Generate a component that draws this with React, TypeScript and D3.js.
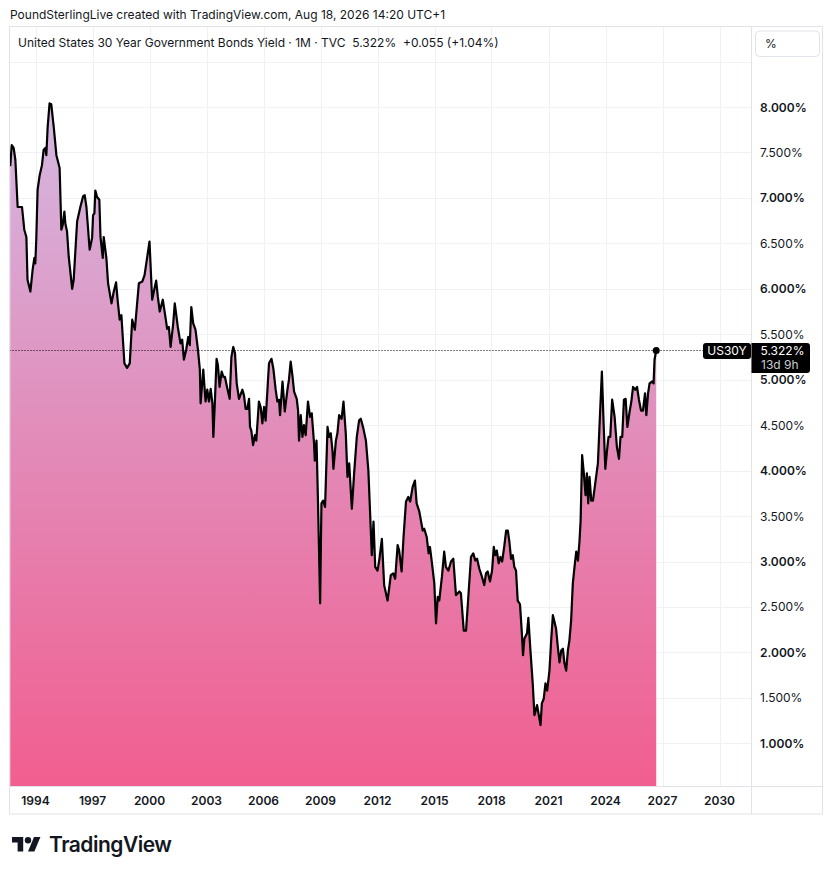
import { useEffect } from "react";
import * as d3 from "d3";

// monthly-ish readings of the US 30Y yield, decimal year -> percent
const dates = [
  1992.67, 1992.75, 1992.85, 1992.94, 1993.06, 1993.29, 1993.41, 1993.52, 1993.58, 1993.73,
  1993.85, 1993.94, 1993.99, 1994.04, 1994.11, 1994.22, 1994.34, 1994.43, 1994.52, 1994.57,
  1994.64, 1994.74, 1994.83, 1994.96, 1995.1, 1995.27, 1995.36, 1995.43, 1995.52, 1995.57,
  1995.66, 1995.75, 1995.93, 1996.01, 1996.19, 1996.36, 1996.51, 1996.59, 1996.68, 1996.85,
  1996.98, 1997.03, 1997.1, 1997.15, 1997.24, 1997.36, 1997.42, 1997.54, 1997.59, 1997.73,
  1997.82, 1998.0, 1998.12, 1998.24, 1998.33, 1998.43, 1998.52, 1998.68, 1998.82, 1998.96,
  1999.09, 1999.23, 1999.44, 1999.62, 1999.74, 2000.0, 2000.14, 2000.35, 2000.44, 2000.54,
  2000.7, 2000.81, 2000.93, 2001.02, 2001.11, 2001.25, 2001.33, 2001.49, 2001.63, 2001.72,
  2001.81, 2001.93, 2002.04, 2002.12, 2002.2, 2002.3, 2002.42, 2002.55, 2002.65, 2002.69,
  2002.83, 2002.95, 2003.04, 2003.13, 2003.22, 2003.31, 2003.36, 2003.43, 2003.53, 2003.6,
  2003.69, 2003.8, 2003.89, 2003.97, 2004.1, 2004.22, 2004.31, 2004.41, 2004.5, 2004.59,
  2004.71, 2004.89, 2004.97, 2005.06, 2005.15, 2005.24, 2005.29, 2005.36, 2005.45, 2005.55,
  2005.62, 2005.76, 2005.85, 2005.94, 2006.03, 2006.11, 2006.29, 2006.42, 2006.52, 2006.64,
  2006.73, 2006.82, 2006.87, 2007.0, 2007.12, 2007.26, 2007.34, 2007.43, 2007.52, 2007.61,
  2007.75, 2007.82, 2007.87, 2007.96, 2008.05, 2008.13, 2008.22, 2008.34, 2008.45, 2008.54,
  2008.66, 2008.7, 2008.79, 2008.87, 2008.98, 2009.05, 2009.14, 2009.24, 2009.37, 2009.45,
  2009.54, 2009.63, 2009.68, 2009.81, 2009.89, 2009.98, 2010.11, 2010.21, 2010.33, 2010.42,
  2010.51, 2010.65, 2010.77, 2010.91, 2011.03, 2011.12, 2011.25, 2011.39, 2011.52, 2011.7,
  2011.79, 2011.88, 2012.0, 2012.09, 2012.23, 2012.35, 2012.53, 2012.7, 2012.83, 2012.93,
  2013.06, 2013.14, 2013.27, 2013.37, 2013.5, 2013.62, 2013.72, 2013.85, 2013.97, 2014.06,
  2014.2, 2014.38, 2014.46, 2014.59, 2014.69, 2014.76, 2014.85, 2014.99, 2015.08, 2015.17,
  2015.25, 2015.39, 2015.51, 2015.6, 2015.73, 2015.87, 2015.99, 2016.13, 2016.31, 2016.39,
  2016.54, 2016.66, 2016.78, 2016.92, 2017.04, 2017.15, 2017.24, 2017.36, 2017.5, 2017.62,
  2017.71, 2017.8, 2017.92, 2018.03, 2018.12, 2018.2, 2018.28, 2018.38, 2018.47, 2018.56,
  2018.68, 2018.77, 2018.86, 2018.94, 2019.03, 2019.12, 2019.2, 2019.29, 2019.38, 2019.5,
  2019.59, 2019.66, 2019.73, 2019.87, 2019.94, 2020.05, 2020.17, 2020.26, 2020.4, 2020.49,
  2020.58, 2020.65, 2020.75, 2020.84, 2020.93, 2021.05, 2021.14, 2021.23, 2021.31, 2021.4,
  2021.49, 2021.58, 2021.67, 2021.76, 2021.84, 2021.93, 2022.02, 2022.1, 2022.19, 2022.28,
  2022.37, 2022.46, 2022.55, 2022.63, 2022.69, 2022.77, 2022.86, 2022.95, 2023.02, 2023.09,
  2023.16, 2023.25, 2023.34, 2023.46, 2023.6, 2023.69, 2023.81, 2023.9, 2023.99, 2024.08,
  2024.16, 2024.25, 2024.35, 2024.48, 2024.6, 2024.71, 2024.79, 2024.88, 2024.97, 2025.06,
  2025.15, 2025.27, 2025.36, 2025.45, 2025.57, 2025.66, 2025.76, 2025.87, 2025.97, 2026.08,
  2026.15, 2026.24, 2026.32, 2026.46, 2026.53, 2026.58, 2026.67,
];

const yields = [
  7.35, 7.58, 7.55, 7.42, 6.9, 6.9, 6.65, 6.57, 6.1, 5.97,
  6.21, 6.34, 6.28, 6.54, 7.09, 7.25, 7.36, 7.53, 7.55, 7.47,
  7.78, 8.04, 8.03, 7.78, 7.47, 7.33, 6.65, 6.7, 6.85, 6.72,
  6.63, 6.35, 6.0, 6.1, 6.74, 6.9, 7.02, 7.03, 6.9, 6.43,
  6.56, 6.81, 6.83, 7.08, 7.01, 6.98, 6.57, 6.34, 6.57, 6.34,
  6.06, 5.84, 5.97, 6.07, 5.86, 5.66, 5.71, 5.18, 5.13, 5.18,
  5.66, 5.55, 6.06, 6.08, 6.15, 6.52, 5.88, 6.09, 5.91, 5.75,
  5.88, 5.73, 5.56, 5.58, 5.36, 5.62, 5.84, 5.58, 5.4, 5.44,
  5.22, 5.33, 5.47, 5.38, 5.8, 5.62, 5.55, 5.33, 5.11, 4.74,
  5.11, 4.76, 4.89, 4.76, 4.9, 4.74, 4.37, 4.7, 5.23, 5.16,
  4.92, 5.09, 5.03, 5.03, 4.9, 4.79, 5.25, 5.36, 5.29, 4.96,
  4.79, 4.89, 4.83, 4.68, 4.68, 4.79, 4.48, 4.44, 4.28, 4.39,
  4.33, 4.76, 4.7, 4.52, 4.7, 4.55, 5.18, 5.23, 5.12, 4.89,
  4.76, 4.78, 4.61, 4.98, 4.65, 4.89, 5.0, 5.2, 5.05, 4.87,
  4.79, 4.66, 4.33, 4.61, 4.37, 4.5, 4.39, 4.76, 4.59, 4.63,
  4.3, 4.11, 4.33, 3.64, 2.54, 3.64, 3.67, 3.6, 4.48, 4.37,
  4.41, 4.22, 4.02, 4.33, 4.41, 4.61, 4.57, 4.76, 4.41, 3.93,
  4.08, 3.58, 3.97, 4.37, 4.55, 4.57, 4.47, 4.33, 4.0, 3.07,
  3.44, 2.94, 2.9, 3.01, 3.25, 2.74, 2.57, 2.85, 2.87, 2.81,
  3.18, 3.12, 2.89, 3.27, 3.66, 3.71, 3.66, 3.82, 3.89, 3.64,
  3.55, 3.34, 3.36, 3.27, 3.09, 3.16, 3.01, 2.76, 2.32, 2.61,
  2.57, 2.83, 3.11, 2.94, 2.9, 3.0, 3.03, 2.63, 2.67, 2.65,
  2.24, 2.24, 2.61, 3.05, 3.09, 3.01, 3.03, 2.92, 2.83, 2.74,
  2.87, 2.89, 2.78, 2.9, 3.16, 3.07, 3.12, 2.98, 3.05, 3.0,
  3.18, 3.34, 3.34, 3.22, 3.03, 3.07, 2.94, 2.9, 2.57, 2.53,
  2.24, 1.97, 2.15, 2.21, 2.38, 2.02, 1.66, 1.31, 1.42, 1.31,
  1.2, 1.44, 1.49, 1.66, 1.58, 1.8, 2.13, 2.41, 2.34, 2.26,
  2.06, 1.89, 2.02, 2.04, 1.88, 1.8, 2.02, 2.13, 2.35, 2.76,
  2.94, 3.11, 3.01, 3.22, 3.45, 4.17, 3.97, 3.73, 3.97, 3.64,
  3.93, 3.67, 3.67, 3.86, 4.08, 4.52, 5.09, 4.52, 4.02, 4.22,
  4.37, 4.37, 4.78, 4.59, 4.26, 4.13, 4.37, 4.37, 4.78, 4.79,
  4.48, 4.65, 4.76, 4.92, 4.89, 4.92, 4.78, 4.66, 4.66, 4.85,
  4.61, 4.85, 4.96, 4.98, 4.96, 5.22, 5.322,
];

const yearTicks = [1994, 1997, 2000, 2003, 2006, 2009, 2012, 2015, 2018, 2021, 2024, 2027, 2030];
const priceTicks = [1, 1.5, 2, 2.5, 3, 3.5, 4, 4.5, 5, 5.5, 6, 6.5, 7, 7.5, 8, 8.5];

const headerText = "PoundSterlingLive created with TradingView.com, Aug 18, 2026 14:20 UTC+1";
const legendText = "United States 30 Year Government Bonds Yield · 1M · TVC  5.322%  +0.055 (+1.04%)";
const symbol = "US30Y";
const lastPrice = "5.322%";
const countdown = "13d 9h";

const W = 833;
const H = 875;
const pane = { left: 9.5, right: 751.5, top: 26.5, bottom: 786.5 };
const outerRight = 822.5;
const outerBottom = 814;
const FONT = "Inter, Roboto, 'Noto Sans', sans-serif";
const TXT = "#131722";

export default function App() {
  useEffect(() => {
    document.body.style.margin = "0";
  }, []);

  const x = d3.scaleLinear().domain([1994, 2030]).range([35.5, 719.5]);
  const y = d3.scaleLinear().domain([1, 8]).range([743.3, 107]);

  const pts = dates.map((d, i) => [d, yields[i]] as [number, number]);
  const line = d3
    .line<[number, number]>()
    .x((d) => x(d[0]))
    .y((d) => y(d[1]));
  const area = d3
    .area<[number, number]>()
    .x((d) => x(d[0]))
    .y0(pane.bottom)
    .y1((d) => y(d[1]));

  const last = pts[pts.length - 1];
  const lastY = y(last[1]);
  const topY = y(d3.max(yields) as number);

  return (
    <svg
      width={W}
      height={H}
      style={{ position: "absolute", left: 0, top: 0, background: "#fff" }}
      fontFamily={FONT}
    >
      <defs>
        <linearGradient id="fillGrad" gradientUnits="userSpaceOnUse" x1={0} x2={0} y1={topY} y2={pane.bottom}>
          <stop offset="0%" stopColor="#d4b8e2" />
          <stop offset="100%" stopColor="#f15e8f" />
        </linearGradient>
        <clipPath id="paneClip">
          <rect x={pane.left} y={pane.top} width={pane.right - pane.left} height={pane.bottom - pane.top} />
        </clipPath>
      </defs>

      <rect width={W} height={H} fill="#fff" />

      <text x={10} y={19} fontSize={12} fill={TXT}>
        {headerText}
      </text>

      {/* grid */}
      <g stroke="#f0f1f4" strokeWidth={1}>
        {priceTicks.map((p) => (
          <line key={p} x1={pane.left} x2={pane.right} y1={Math.round(y(p)) + 0.5} y2={Math.round(y(p)) + 0.5} />
        ))}
        {yearTicks.map((t) => (
          <line key={t} x1={Math.round(x(t)) + 0.5} x2={Math.round(x(t)) + 0.5} y1={pane.top} y2={pane.bottom} />
        ))}
      </g>

      {/* area + line */}
      <g clipPath="url(#paneClip)">
        <path d={area(pts) as string} fill="url(#fillGrad)" />
        <path d={line(pts) as string} fill="none" stroke="#000" strokeWidth={2.2} strokeLinejoin="round" />
        <circle cx={x(last[0])} cy={lastY} r={3.5} fill="#000" />
        <line
          x1={pane.left}
          x2={703}
          y1={Math.round(lastY) + 0.5}
          y2={Math.round(lastY) + 0.5}
          stroke="#000"
          strokeWidth={1}
          strokeDasharray="1 2"
        />
      </g>

      <text x={18} y={47} fontSize={12} fill={TXT} style={{ whiteSpace: "pre" }}>
        {legendText}
      </text>

      {/* frame */}
      <g stroke="#e0e3eb" strokeWidth={1} fill="none">
        <rect x={pane.left} y={pane.top} width={outerRight - pane.left} height={outerBottom - pane.top} />
        <line x1={pane.right} x2={pane.right} y1={pane.top} y2={outerBottom} />
        <line x1={pane.left} x2={outerRight} y1={pane.bottom} y2={pane.bottom} />
      </g>

      {/* price axis */}
      <rect x={755.5} y={31} width={64} height={25.5} rx={4} fill="#fff" stroke="#e0e3eb" />
      <text x={765} y={48} fontSize={12} fill={TXT}>
        %
      </text>
      {priceTicks
        .filter((p) => p <= 8)
        .map((p) => (
          <text
            key={p}
            x={760}
            y={y(p) + 4.5}
            fontSize={12}
            fontWeight={p % 1 === 0 ? 600 : 400}
            fill={TXT}
          >
            {p.toFixed(3) + "%"}
          </text>
        ))}

      {/* last value labels */}
      <rect x={703} y={lastY - 7.5} width={48} height={16} rx={3} fill="#000" />
      <text x={727} y={lastY + 4.5} fontSize={12} fill="#fff" textAnchor="middle">
        {symbol}
      </text>
      <path
        d={`M${pane.right},${lastY - 7.5} H${807} a3,3 0 0 1 3,3 V${lastY + 19.5} a3,3 0 0 1 -3,3 H${pane.right} Z`}
        fill="#000"
      />
      <text x={760.5} y={lastY + 4.5} fontSize={12} fill="#fff">
        {lastPrice}
      </text>
      <text x={761} y={lastY + 18.5} fontSize={12} fill="#c9cbd1">
        {countdown}
      </text>

      {/* time axis */}
      {yearTicks.map((t) => (
        <text key={t} x={x(t)} y={805} fontSize={12} fontWeight={600} fill={TXT} textAnchor="middle">
          {t}
        </text>
      ))}

      {/* logo */}
      <g transform="translate(12,833.8) scale(0.8)" fill="#131722">
        <path d="M14 22H7V11H0V4h14v18z" />
        <path d="M28 22h-8l7.5-18h8L28 22z" />
        <circle cx={20} cy={8} r={4} />
      </g>
      <text x={49} y={852} fontSize={21} fontWeight={600} fill="#131722" letterSpacing={-0.5}>
        TradingView
      </text>
    </svg>
  );
}
